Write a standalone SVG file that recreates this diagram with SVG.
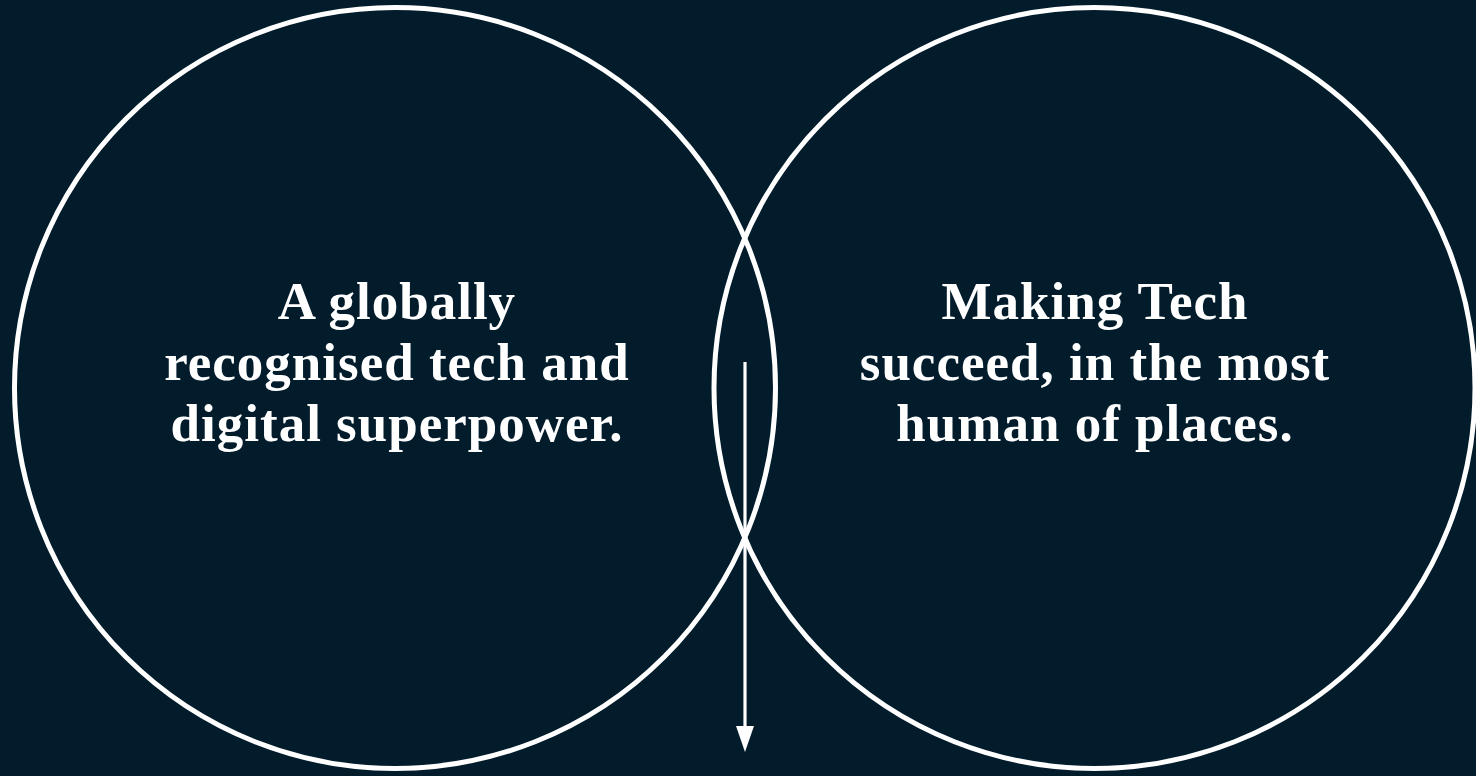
<svg xmlns="http://www.w3.org/2000/svg" width="1476" height="776" viewBox="0 0 1476 776">
<defs>
<style>
.ring{fill:none;stroke:#ffffff;stroke-width:5}
.lbl{font-family:"Liberation Serif","DejaVu Serif",serif;font-weight:bold;font-size:53px;fill:#ffffff;text-anchor:middle;letter-spacing:1px}
.conn{stroke:#ffffff;stroke-width:3.2;fill:none}
</style>
</defs>
<rect width="1476" height="776" fill="#021c2c"/>
<g id="node-left">
<circle class="ring" cx="395" cy="388" r="380.5"/>
<text class="lbl" x="397" y="319">A globally</text>
<text class="lbl" x="397" y="380">recognised tech and</text>
<text class="lbl" x="397" y="441">digital superpower.</text>
</g>
<g id="node-right">
<circle class="ring" cx="1094.5" cy="388" r="380.5"/>
<text class="lbl" x="1095" y="319">Making Tech</text>
<text class="lbl" x="1095" y="380">succeed, in the most</text>
<text class="lbl" x="1095" y="441">human of places.</text>
</g>
<g id="connectors">
<line class="conn" x1="745" y1="362" x2="745" y2="728"/>
<path d="M736,726 L754,726 L745,752 Z" fill="#ffffff"/>
</g>
</svg>
